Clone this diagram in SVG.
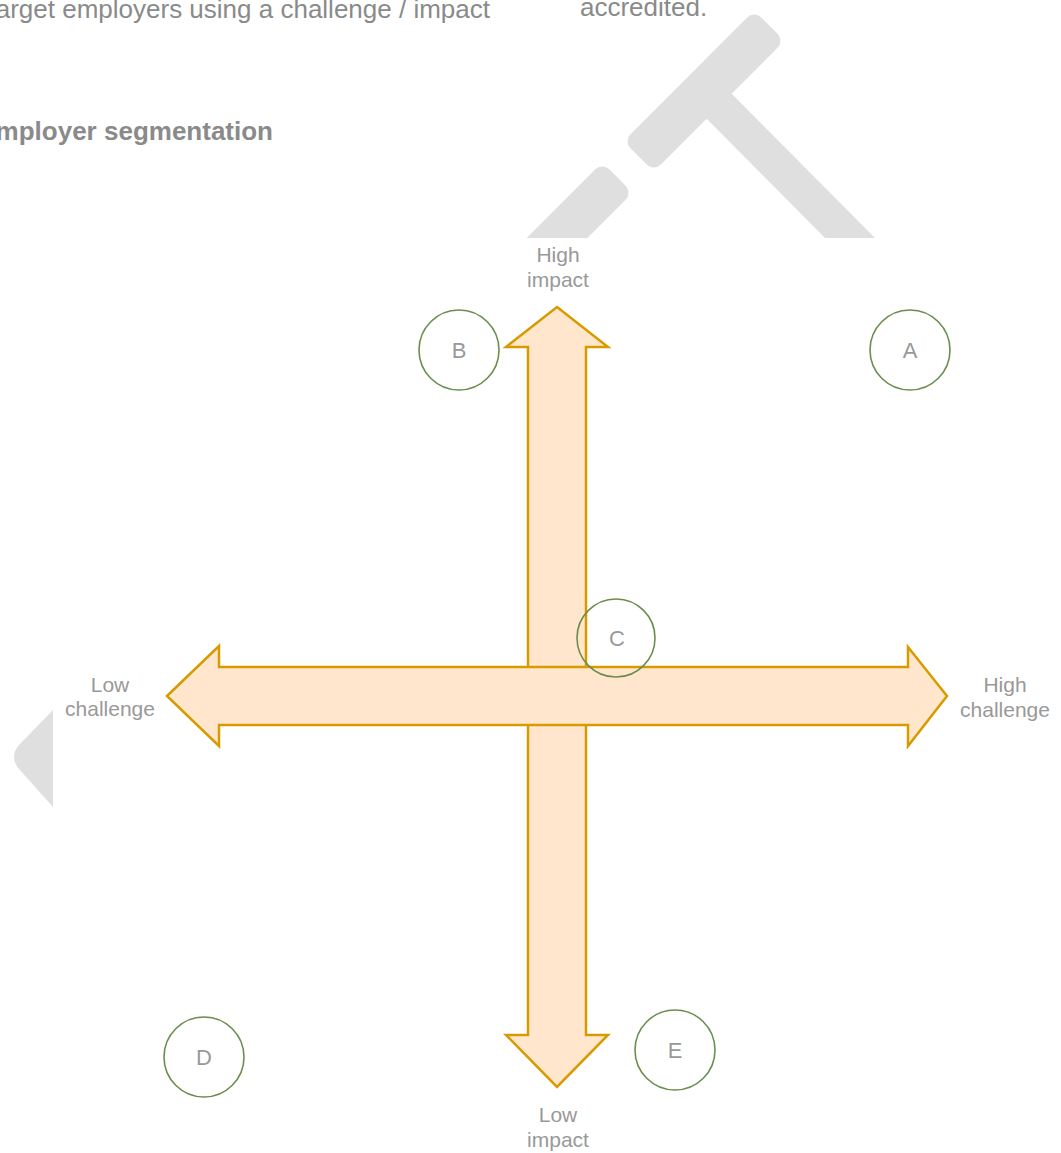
<svg xmlns="http://www.w3.org/2000/svg" width="1061" height="1153" viewBox="0 0 1061 1153">
  <style>
    .doc { font-family: "Liberation Sans", Arial, sans-serif; fill: #8a8a8a; font-size: 26px; }
    .wm { fill: #dfdfdf; }
    .arrow { fill: #ffe6cc; stroke: #d79b00; stroke-width: 2.5; stroke-linejoin: miter; }
    .node circle { fill: none; stroke: #6b8e4e; stroke-width: 1.6; }
    .node text { font-family: "Liberation Sans", Arial, sans-serif; fill: #999999; font-size: 22px; text-anchor: middle; }
    .lbl { font-family: "Liberation Sans", Arial, sans-serif; fill: #999999; font-size: 21px; text-anchor: middle; }
  </style>
  <rect width="1061" height="1153" fill="#ffffff"/>

  <!-- page text -->
  <text class="doc" x="490" y="18" text-anchor="end">arget employers using a challenge / impact</text>
  <text class="doc" x="580" y="16">accredited.</text>
  <text class="doc" x="273" y="140" text-anchor="end" font-weight="bold" font-size="27">mployer segmentation</text>

  <!-- watermark -->
  <g id="watermark">
    <rect class="wm" x="-92.5" y="-21.5" width="185" height="43" rx="10" transform="translate(704,91) rotate(-45)"/>
    <polygon class="wm" points="718,80 875,238 825,238 693,105"/>
    <rect class="wm" x="-130" y="-21.5" width="130" height="43" rx="10" transform="translate(617.5,177.5) rotate(-45)"/>
    <path class="wm" d="M53,710 L19,745 Q9,757 19,769 L53,807 Z"/>
  </g>
  <rect x="53" y="238" width="1008" height="915" fill="#ffffff"/>

  <!-- connectors (axes) -->
  <g id="connectors">
    <path id="impact-axis" class="arrow" d="M557,307 L608,347 L586,347 L586,1035 L608,1035 L557,1087 L506,1035 L528,1035 L528,347 L506,347 Z"/>
    <path id="challenge-axis" class="arrow" d="M167,696 L219,646 L219,667 L908,667 L908,647 L947,696 L908,746 L908,725 L219,725 L219,746 Z"/>
  </g>

  <!-- axis labels -->
  <g id="labels">
    <text class="lbl" x="558" y="262">High</text>
    <text class="lbl" x="558" y="287">impact</text>
    <text class="lbl" x="110" y="692">Low</text>
    <text class="lbl" x="110" y="716">challenge</text>
    <text class="lbl" x="1005" y="692">High</text>
    <text class="lbl" x="1005" y="717">challenge</text>
    <text class="lbl" x="558" y="1122">Low</text>
    <text class="lbl" x="558" y="1147">impact</text>
  </g>

  <!-- nodes -->
  <g id="node-A" class="node"><circle cx="910" cy="350" r="40"/><text x="910" y="358">A</text></g>
  <g id="node-B" class="node"><circle cx="459" cy="350" r="40"/><text x="459" y="358">B</text></g>
  <g id="node-C" class="node"><circle cx="616" cy="638" r="39"/><text x="617" y="646">C</text></g>
  <g id="node-D" class="node"><circle cx="204" cy="1057" r="40"/><text x="204" y="1065">D</text></g>
  <g id="node-E" class="node"><circle cx="675" cy="1050" r="40"/><text x="675" y="1058">E</text></g>
</svg>
